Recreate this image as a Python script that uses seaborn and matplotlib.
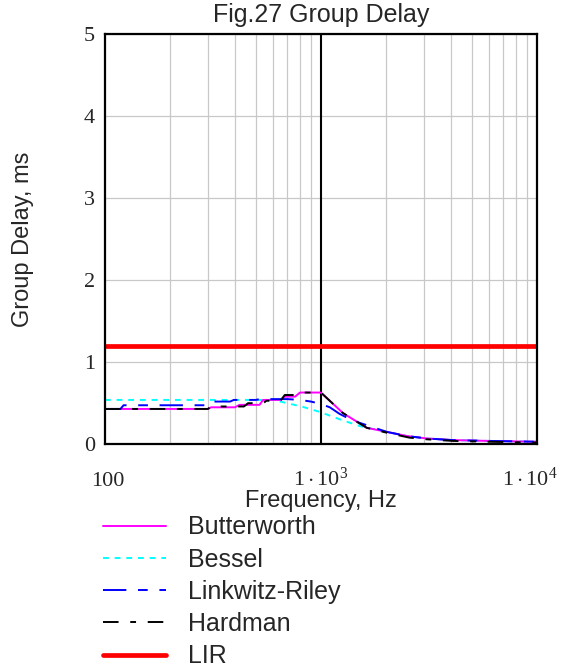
import numpy as np
import pandas as pd
import matplotlib
matplotlib.use("Agg")
import matplotlib.pyplot as plt
import matplotlib.transforms as mtransforms
import seaborn as sns
from matplotlib.ticker import FixedLocator, LogLocator, NullFormatter

sns.set_style("white")
plt.rcParams['font.family'] = ['Liberation Sans', 'DejaVu Sans']
plt.rcParams['mathtext.fontset'] = 'custom'
plt.rcParams['mathtext.rm'] = 'Liberation Serif'
plt.rcParams['mathtext.it'] = 'Liberation Serif:italic'

# ---- data ----
bw_f = [100, 300, 310, 400, 420, 520, 540, 650, 680, 760, 800, 1000, 1130, 1265, 1630, 2020, 2500, 3090, 4080, 6000, 10000]
bw_v = [0.43, 0.43, 0.45, 0.45, 0.48, 0.48, 0.54, 0.54, 0.58, 0.58, 0.63, 0.63, 0.50, 0.38, 0.20, 0.15, 0.10, 0.07, 0.05, 0.04, 0.03]

be_f = [100, 600, 700, 826, 1000, 1120, 1265, 1520, 2020, 2500, 3090, 4080, 6000, 10000]
be_v = [0.54, 0.54, 0.50, 0.455, 0.39, 0.34, 0.29, 0.22, 0.15, 0.10, 0.07, 0.05, 0.04, 0.03]

lr_f = [100, 118, 122, 300, 312, 380, 395, 500, 520, 700, 800, 900, 1000, 1100, 1220, 1400, 2020, 2500, 3090, 4080, 6000, 10000]
lr_v = [0.43, 0.43, 0.475, 0.475, 0.52, 0.52, 0.54, 0.54, 0.55, 0.55, 0.54, 0.52, 0.49, 0.45, 0.37, 0.29, 0.15, 0.10, 0.07, 0.05, 0.04, 0.03]

hd_f = [100, 300, 310, 440, 460, 540, 560, 650, 680, 760, 800, 1000, 1130, 1265, 1630, 2020, 2570, 3090, 4080, 6000, 10000]
hd_v = [0.43, 0.43, 0.46, 0.46, 0.50, 0.50, 0.53, 0.53, 0.60, 0.60, 0.63, 0.63, 0.50, 0.38, 0.20, 0.14, 0.08, 0.06, 0.04, 0.03, 0.02]

lir_f = [100, 10000]
lir_v = [1.2, 1.2]

names = ["Butterworth", "Bessel", "Linkwitz-Riley", "Hardman", "LIR"]
x_ticks = [100, 1000, 10000]
x_tick_labels = ["100", r"$1\cdot10^{3}$", r"$1\cdot10^{4}$"]
y_ticks = [0, 1, 2, 3, 4, 5]

series = {
    "Butterworth": (bw_f, bw_v),
    "Bessel": (be_f, be_v),
    "Linkwitz-Riley": (lr_f, lr_v),
    "Hardman": (hd_f, hd_v),
    "LIR": (lir_f, lir_v),
}
styles = {
    "Butterworth": dict(color="#ff00ff", lw=1.4, ls="-"),
    "Bessel": dict(color="#00ffff", lw=1.4, ls=(0, (3, 3))),
    "Linkwitz-Riley": dict(color="#0000ff", lw=1.4, ls=(0, (12, 6, 5, 6))),
    "Hardman": dict(color="#000000", lw=1.4, ls=(0, (8, 6, 3, 6))),
    "LIR": dict(color="#ff0000", lw=3.4, ls="-"),
}

fig = plt.figure(figsize=(5.61, 6.71), dpi=100)
ax = fig.add_axes([0.187, 0.338, 0.770, 0.611])

order = ["LIR", "Bessel", "Butterworth", "Linkwitz-Riley", "Hardman"]
handles = {}
for n in order:
    f, v = series[n]
    df = pd.DataFrame({"f": f, "v": v})
    st = styles[n]
    sns.lineplot(data=df, x="f", y="v", ax=ax, color=st["color"], linewidth=st["lw"],
                 linestyle=st["ls"], estimator=None, sort=False)
    handles[n] = ax.lines[-1]

ax.set_xscale("log")
ax.set_xlim(100, 10000)
ax.set_ylim(0, 5)

ax.xaxis.set_major_locator(FixedLocator(x_ticks))
ax.set_xticklabels(x_tick_labels)
ax.xaxis.set_minor_locator(LogLocator(base=10, subs=np.arange(2, 10)))
ax.xaxis.set_minor_formatter(NullFormatter())
ax.set_yticks(y_ticks)
ax.set_yticklabels([str(t) for t in y_ticks])

ax.grid(which="minor", axis="x", color="#c8c8c8", lw=0.9)
ax.grid(which="major", axis="y", color="#c8c8c8", lw=0.9)
ax.axvline(1000, color="black", lw=1.5, zorder=1)
ax.set_axisbelow(True)

for s in ax.spines.values():
    s.set_visible(True)
    s.set_color("black")
    s.set_linewidth(1.6)

ax.tick_params(axis="both", which="both", length=0, labelsize=16)
ax.tick_params(axis="y", pad=7)
ax.tick_params(axis="x", pad=30)
for lab in ax.get_yticklabels() + ax.get_xticklabels():
    lab.set_fontfamily("Liberation Serif")
xlabs = ax.get_xticklabels()
for lab in xlabs:
    lab.set_verticalalignment("baseline")
# shift the last label slightly left so it stays inside the figure
xlabs[-1].set_transform(xlabs[-1].get_transform() +
                        mtransforms.ScaledTranslation(-7 / 100, 0, fig.dpi_scale_trans))
xlabs[0].set_transform(xlabs[0].get_transform() +
                       mtransforms.ScaledTranslation(3 / 100, 0, fig.dpi_scale_trans))

ax.set_title("Fig.27 Group Delay", fontsize=18, pad=9)
ax.set_xlabel("Frequency, Hz", fontsize=17)
ax.xaxis.set_label_coords(0.5, -0.153)
ax.xaxis.label.set_verticalalignment("baseline")
ax.set_ylabel("Group Delay, ms", fontsize=17)
ax.yaxis.set_label_coords(-0.19, 0.5)
ax.yaxis.label.set_verticalalignment("center")

leg = fig.legend([handles[n] for n in names], names, loc="upper left",
                 bbox_to_anchor=(0.184, 0.232), frameon=False, fontsize=18,
                 handlelength=2.5, handletextpad=0.9, labelspacing=0.33,
                 borderpad=0, borderaxespad=0)

fig.savefig("out.png", dpi=100)
